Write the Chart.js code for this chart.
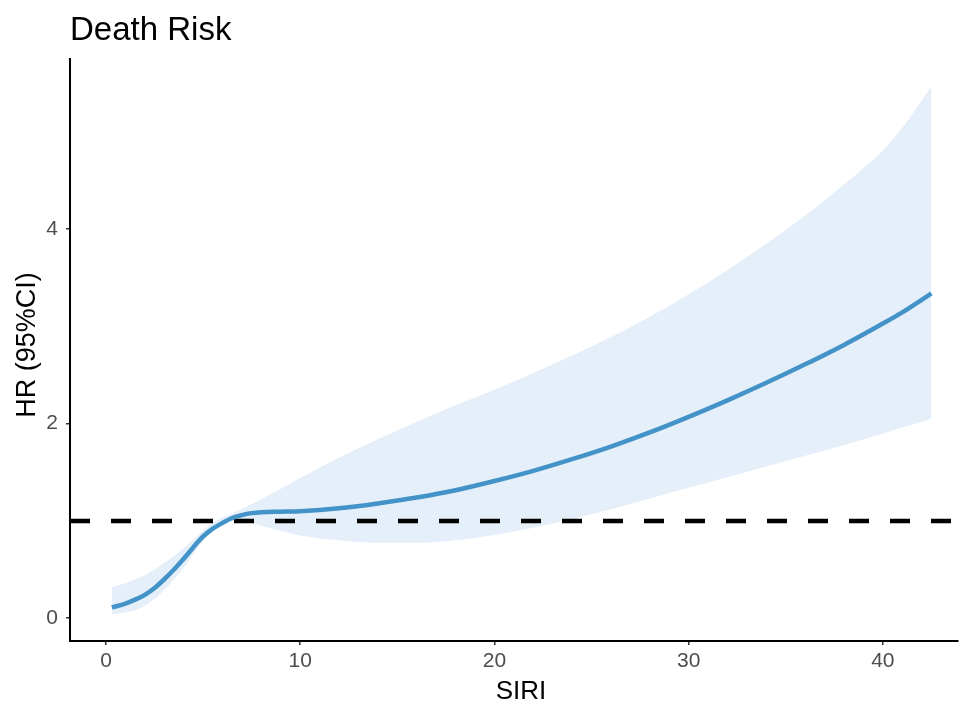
<!DOCTYPE html>
<html>
<head>
<meta charset="utf-8">
<title>Death Risk</title>
<script src="https://cdn.jsdelivr.net/npm/chart.js@4.4.1/dist/chart.umd.min.js"></script>
<style>
  html, body { margin: 0; padding: 0; background: #fff; }
  canvas { display: block; }
</style>
</head>
<body>
<canvas id="chart" width="960" height="704"></canvas>
<script>
// Values
const siri    = [0.3, 1, 1.5, 2, 2.5, 3, 3.5, 4, 4.5, 5, 5.5, 6, 6.5, 7, 7.5, 8, 9, 10, 12, 14, 16, 18, 20, 22, 24, 26, 28, 30, 32, 34, 36, 38, 40, 41, 42.5];
const hr      = [0.11, 0.15, 0.19, 0.24, 0.31, 0.40, 0.50, 0.61, 0.73, 0.84, 0.92, 0.98, 1.03, 1.06, 1.08, 1.09, 1.095, 1.10, 1.13, 1.18, 1.24, 1.315, 1.41, 1.515, 1.635, 1.765, 1.91, 2.07, 2.24, 2.42, 2.61, 2.81, 3.03, 3.145, 3.34];
const hrUpper = [0.32, 0.36, 0.40, 0.44, 0.50, 0.57, 0.64, 0.72, 0.81, 0.90, 0.98, 1.035, 1.08, 1.125, 1.175, 1.225, 1.33, 1.44, 1.65, 1.84, 2.02, 2.19, 2.35, 2.52, 2.70, 2.89, 3.10, 3.33, 3.58, 3.85, 4.14, 4.46, 4.81, 5.04, 5.47];
const hrLower = [0.04, 0.06, 0.08, 0.13, 0.20, 0.29, 0.40, 0.52, 0.66, 0.79, 0.89, 0.96, 1.00, 1.00, 0.98, 0.95, 0.90, 0.85, 0.80, 0.775, 0.775, 0.80, 0.855, 0.93, 1.02, 1.12, 1.23, 1.34, 1.45, 1.56, 1.67, 1.78, 1.90, 1.96, 2.05];
const refLine = 1;
const xTicks = [0, 10, 20, 30, 40];
const yTicks = [0, 2, 4];

const FONT = "'Liberation Sans', Arial, sans-serif";
const toPoints = (ys) => siri.map((x, i) => ({ x: x, y: ys[i] }));

// Title and axis titles, placed the way ggplot puts them
const textPlugin = {
  id: 'ggText',
  afterDraw(chart) {
    const ctx = chart.ctx;
    const area = chart.chartArea;
    ctx.save();
    ctx.fillStyle = '#000';

    ctx.font = '33px ' + FONT;
    ctx.textAlign = 'left';
    ctx.textBaseline = 'alphabetic';
    ctx.fillText('Death Risk', area.left, 40);

    ctx.font = '26px ' + FONT;
    ctx.textAlign = 'center';
    ctx.textBaseline = 'middle';
    ctx.fillText('SIRI', area.left + (area.right - area.left) / 2 + 7, 692);

    ctx.translate(28, 345);
    ctx.rotate(-Math.PI / 2);
    ctx.font = '27px ' + FONT;
    ctx.fillText('HR (95%CI)', 0, 0);
    ctx.restore();
  }
};

const xMin = -1.854, xMax = 43.87;

new Chart(document.getElementById('chart'), {
  type: 'line',
  data: {
    datasets: [
      {
        label: 'HR',
        data: toPoints(hr),
        borderColor: '#4393C8',
        borderWidth: 4.5,
        pointRadius: 0,
        fill: false,
        cubicInterpolationMode: 'monotone'
      },
      {
        label: 'ref',
        data: [{ x: xMin, y: refLine }, { x: xMax, y: refLine }],
        borderColor: '#000',
        borderWidth: 4.5,
        borderDash: [20, 21],
        pointRadius: 0,
        fill: false
      },
      {
        label: 'upper',
        data: toPoints(hrUpper),
        borderWidth: 0,
        borderColor: 'rgba(0,0,0,0)',
        backgroundColor: '#E5EFF9',
        pointRadius: 0,
        fill: '+1',
        cubicInterpolationMode: 'monotone'
      },
      {
        label: 'lower',
        data: toPoints(hrLower),
        borderWidth: 0,
        borderColor: 'rgba(0,0,0,0)',
        pointRadius: 0,
        fill: false,
        cubicInterpolationMode: 'monotone'
      }
    ]
  },
  options: {
    responsive: false,
    animation: false,
    layout: { padding: { top: 59, right: 2, left: 0, bottom: 0 } },
    plugins: {
      legend: { display: false },
      tooltip: { enabled: false },
      title: { display: false }
    },
    scales: {
      x: {
        type: 'linear',
        min: xMin,
        max: xMax,
        afterBuildTicks: (s) => { s.ticks = xTicks.map(v => ({ value: v })); },
        afterFit: (s) => { s.height = 63; },
        border: { display: true, color: '#000', width: 2 },
        grid: { drawOnChartArea: false, drawTicks: true, tickLength: 4, color: '#333', lineWidth: 1.5 },
        ticks: { color: '#4D4D4D', font: { family: FONT, size: 21 }, padding: 4, maxRotation: 0 }
      },
      y: {
        type: 'linear',
        min: -0.235,
        max: 5.75,
        afterBuildTicks: (s) => { s.ticks = yTicks.map(v => ({ value: v })); },
        afterFit: (s) => { s.width = 70; },
        border: { display: true, color: '#000', width: 2 },
        grid: { drawOnChartArea: false, drawTicks: true, tickLength: 4, color: '#333', lineWidth: 1.5 },
        ticks: { color: '#4D4D4D', font: { family: FONT, size: 21 }, padding: 8 }
      }
    }
  },
  plugins: [textPlugin]
});
</script>
</body>
</html>
